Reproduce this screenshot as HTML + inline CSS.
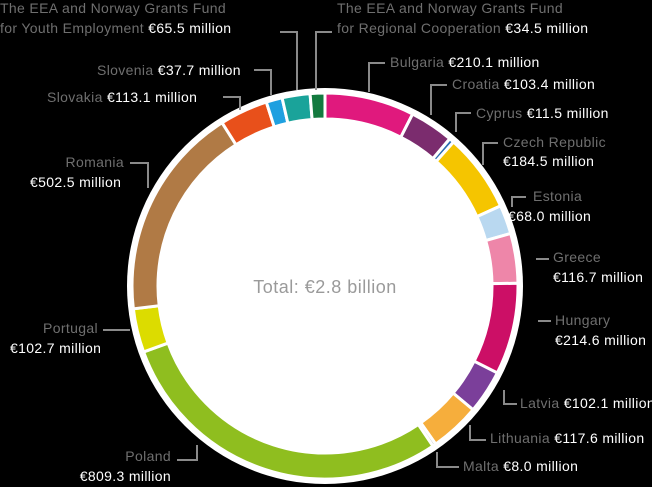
<!DOCTYPE html>
<html><head><meta charset="utf-8"><style>
html,body{margin:0;padding:0;background:#000;}
body{width:652px;height:487px;overflow:hidden;position:relative;font-family:"Liberation Sans",sans-serif;}
svg{position:absolute;left:0;top:0;}
text{font-size:14px;letter-spacing:0.35px;}
.n{fill:#6f6f6f;}
.v{fill:#fff;}
</style></head><body>
<svg width="652" height="487" viewBox="0 0 652 487" xmlns="http://www.w3.org/2000/svg">
<circle cx="325" cy="286" r="198" fill="#fff"/>
<g id="ring"></g>
<text x="325" y="293" text-anchor="middle" style="font-size:18px;letter-spacing:0.5px;fill:#9a9a9a">Total: €2.8 billion</text>
<g fill="none" stroke="#8a8a8a" stroke-width="2">
<polyline points="280,32 297,32 297,90"/>
<polyline points="332,32 316,32 316,90"/>
<polyline points="254,70 271,70 271,95"/>
<polyline points="223,97 240,97 240,110"/>
<polyline points="385,63 369,63 369,92"/>
<polyline points="447,85 431,85 431,115"/>
<polyline points="471,113 456,113 456,132"/>
<polyline points="498,143 483,143 483,165"/>
<polyline points="526,197 512,197 512,207"/>
<polyline points="549,259 536,259"/>
<polyline points="551,321 538,321"/>
<polyline points="517,404 504,404 504,390"/>
<polyline points="486,440 470,440 470,425"/>
<polyline points="459,467 437,467 437,452"/>
<polyline points="177,460 197,460 197,445"/>
<polyline points="103,330 130,330"/>
<polyline points="130,163 148,163 148,188"/>
</g>
<text x="0" y="13" class="n">The EEA and Norway Grants Fund</text>
<text x="0" y="33"><tspan class="n">for Youth Employment </tspan><tspan class="v">€65.5 million</tspan></text>
<text x="337" y="13" class="n">The EEA and Norway Grants Fund</text>
<text x="337" y="33"><tspan class="n">for Regional Cooperation </tspan><tspan class="v">€34.5 million</tspan></text>
<text x="97" y="75"><tspan class="n">Slovenia </tspan><tspan class="v">€37.7 million</tspan></text>
<text x="47" y="102"><tspan class="n">Slovakia </tspan><tspan class="v">€113.1 million</tspan></text>
<text x="124" y="167" text-anchor="end" class="n">Romania</text>
<text x="30" y="187" class="v">€502.5 million</text>
<text x="98" y="333" text-anchor="end" class="n">Portugal</text>
<text x="10" y="353" class="v">€102.7 million</text>
<text x="171" y="461" text-anchor="end" class="n">Poland</text>
<text x="171" y="481" text-anchor="end" class="v">€809.3 million</text>
<text x="390" y="67"><tspan class="n">Bulgaria </tspan><tspan class="v">€210.1 million</tspan></text>
<text x="452" y="89"><tspan class="n">Croatia </tspan><tspan class="v">€103.4 million</tspan></text>
<text x="476" y="118"><tspan class="n">Cyprus </tspan><tspan class="v">€11.5 million</tspan></text>
<text x="503" y="147" class="n">Czech Republic</text>
<text x="503" y="166" class="v">€184.5 million</text>
<text x="533" y="201" class="n">Estonia</text>
<text x="508" y="221" class="v">€68.0 million</text>
<text x="553" y="262" class="n">Greece</text>
<text x="553" y="282" class="v">€116.7 million</text>
<text x="555" y="325" class="n">Hungary</text>
<text x="555" y="345" class="v">€214.6 million</text>
<text x="520" y="408"><tspan class="n">Latvia </tspan><tspan class="v">€102.1 million</tspan></text>
<text x="490" y="443"><tspan class="n">Lithuania </tspan><tspan class="v">€117.6 million</tspan></text>
<text x="463" y="471"><tspan class="n">Malta </tspan><tspan class="v">€8.0 million</tspan></text>
</svg>
<script>
var d=[[210.1,"#e0197d"],[103.4,"#7b2c6e"],[11.5,"#2b6cb0"],[184.5,"#f5c500"],[68,"#b9d8f0"],[116.7,"#ee86a9"],[214.6,"#cc0f66"],[102.1,"#7b3f9a"],[117.6,"#f6ae3c"],[8,"#bbbbbb"],[809.3,"#8fbe1f"],[102.7,"#dcdc00"],[502.5,"#b07a45"],[113.1,"#e8501b"],[37.7,"#1ea0e0"],[65.5,"#1aa39a"],[34.5,"#137a3f"]];
var tot=0;d.forEach(function(x){tot+=x[0];});
var cx=325,cy=286,R=193,r=167,a=0,s="";
function p(rad,ang){return (cx+rad*Math.sin(ang)).toFixed(2)+","+(cy-rad*Math.cos(ang)).toFixed(2);}
d.forEach(function(x){var a1=a*2*Math.PI/tot,a2=(a+x[0])*2*Math.PI/tot;a+=x[0];
var l=(a2-a1)>Math.PI?1:0;
s+='<path d="M'+p(R,a1)+' A'+R+','+R+' 0 '+l+' 1 '+p(R,a2)+' L'+p(r,a2)+' A'+r+','+r+' 0 '+l+' 0 '+p(r,a1)+' Z" fill="'+x[1]+'" stroke="#fff" stroke-width="3"/>';});
document.getElementById("ring").innerHTML=s;
</script>
</body></html>
